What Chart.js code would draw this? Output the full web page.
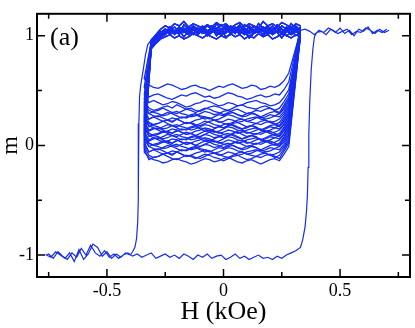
<!DOCTYPE html>
<html><head><meta charset="utf-8">
<script src="https://cdn.jsdelivr.net/npm/chart.js@4/dist/chart.umd.min.js"></script>
<style>html,body{margin:0;padding:0;background:#fff;}canvas{display:block;}</style>
</head><body>
<canvas id="c" width="415" height="328"></canvas>
<script>
// ---- text / ticks ----
const panelLabel = '(a)';
const xTitle = 'H (kOe)';
const yTitle = 'm';
const xTicks = [-0.5, 0, 0.5];
const xMinorTicks = [-0.75, -0.25, 0.25, 0.75];
const yTicks = [-1, 0, 1];
const yMinorTicks = [-0.5, 0.5];

// ---- major loop (H in kOe, m) ----
const mainUpperRightH = [0.71,0.69,0.67,0.65,0.63,0.61,0.59,0.57,0.55,0.53,0.51,0.49,0.47,0.45,0.43,0.41,0.39,0.37,0.35];
const mainUpperRightM = [1.05,1.03,1.06,1.02,1.05,1.07,1.03,1.04,1.01,1.06,1.04,1.02,1.05,1.07,1.03,1.05,1.01,1.04,1.06];
const topH = [0.33,0.31,0.29,0.27,0.25,0.23,0.21,0.19,0.17,0.15,0.13,0.11,0.09,0.07,0.05,0.03,0.01,-0.01,-0.03,-0.05,-0.07,-0.09,-0.11,-0.13,-0.15,-0.17,-0.19,-0.21,-0.23,-0.25,-0.27,-0.29,-0.31];
const mainBandM = [1.05,1.08,1.03,1.06,1.09,1.04,1.07,1.02,1.06,1.08,1.05,1.03,1.07,1.09,1.04,1.06,1.02,1.07,1.05,1.08,1.03,1.06,1.04,1.07,1.01,1.05,1.08,1.04,1.06,1.02,1.03,1.00,0.96];
const mainDescentH = [-0.325,-0.335,-0.345,-0.355,-0.36,-0.363,-0.365,-0.366,-0.368,-0.373,-0.38,-0.39];
const mainDescentM = [0.92,0.82,0.68,0.55,0.45,0.2,-0.2,-0.5,-0.7,-0.85,-0.93,-0.97];
const mainLowerLeftH = [-0.40,-0.42,-0.44,-0.46,-0.48,-0.50,-0.52,-0.54,-0.56,-0.58,-0.60,-0.62,-0.64,-0.66,-0.68,-0.70,-0.72,-0.74,-0.76];
const mainLowerLeftM = [-1.00,-0.98,-1.02,-0.99,-1.03,-0.97,-1.01,-0.93,-0.90,-0.99,-1.04,-0.95,-1.06,-0.98,-1.03,-1.00,-0.97,-1.02,-1.00];
const mainLowerH = [-0.75,-0.73,-0.71,-0.69,-0.67,-0.65,-0.63,-0.61,-0.59,-0.57,-0.55,-0.53,-0.51,-0.49,-0.47,-0.45,-0.43,-0.41,-0.39,-0.37,-0.35,-0.33,-0.31,-0.29,-0.27,-0.25,-0.23,-0.21,-0.19,-0.17,-0.15,-0.13,-0.11,-0.09,-0.07,-0.05,-0.03,-0.01,0.01,0.03,0.05,0.07,0.09,0.11,0.13,0.15,0.17,0.19,0.21,0.23,0.25,0.27,0.29,0.31];
const mainLowerM = [-0.99,-1.03,-0.97,-1.01,-1.04,-0.98,-1.02,-0.94,-1.00,-0.91,-0.98,-1.01,-0.96,-1.02,-0.99,-1.03,-1.00,-0.98,
  -1.01,-0.99,-1.02,-1.00,-0.98,-1.03,-1.01,-0.99,-1.02,-1.00,-1.03,-0.99,-1.01,-1.04,-1.00,-1.02,-0.99,-1.03,-1.01,-1.00,
  -1.04,-1.02,-0.99,-1.03,-1.01,-1.04,-1.02,-1.00,-1.03,-1.02,-1.04,-1.01,-1.03,-1.00,-0.98,-0.96];
const mainRiseH = [0.33,0.34,0.35,0.356,0.36,0.363,0.366,0.37,0.376,0.383,0.39,0.40];
const mainRiseM = [-0.93,-0.86,-0.74,-0.6,-0.45,-0.2,0.1,0.4,0.68,0.87,0.99,1.03];
const mainUpperEndH = [0.42,0.44,0.46,0.48,0.50,0.52,0.54,0.56,0.58,0.60,0.62,0.64,0.66,0.68,0.70];
const mainUpperEndM = [1.04,1.01,1.06,1.03,1.07,1.02,1.05,1.00,1.06,1.04,1.08,1.02,1.05,1.03,1.06];

// ---- minor loops: upper branches (m x 100, at topH) ----
const top1 = [104,107,102,106,109,103,105,108,101,106,104,107,110,103,105,102,107,104,106,109,103,105,101,107,104,106,103,108,105,102,104,100,95];
const top2 = [106,103,108,105,101,107,104,109,106,103,105,102,107,104,108,106,103,100,105,107,104,102,106,109,105,103,107,104,101,106,103,99,94];
const top3 = [102,105,107,103,106,104,101,105,108,104,102,107,105,103,106,109,104,102,107,103,105,108,106,102,104,107,101,105,103,106,102,98,92];
const top4 = [107,104,101,105,103,108,106,102,104,107,105,109,102,106,103,105,108,104,101,106,109,105,103,106,102,105,108,103,106,104,101,97,91];
const top5 = [103,100,105,107,102,104,106,103,101,105,108,104,106,102,104,107,105,101,103,106,102,104,107,105,108,103,105,102,107,103,100,96,90];
const top6 = [109,111,107,110,112,108,111,109,113,107,109,111,108,112,110,107,111,109,112,108,110,107,109,111,108,113,109,111,107,109,106,101,96];
const top7 = [101,104,106,108,103,105,102,107,104,106,109,105,101,104,107,103,105,110,106,104,102,107,103,105,101,104,106,103,105,101,99,95,89];
const top8 = [99,101,98,100,102,99,97,101,99,102,98,100,97,101,99,102,98,100,97,99,101,98,100,102,99,97,100,98,101,99,97,93,88];
const top9 = [105,109,103,100,106,110,104,101,107,111,103,99,105,108,102,106,110,104,100,107,103,109,105,101,106,110,102,104,108,103,100,96,92];
const top10 = [100,106,111,104,98,103,109,105,100,107,102,98,104,110,106,101,99,105,111,103,100,106,102,108,104,99,105,101,107,102,98,94,89];

// ---- minor loops: lower branches (m x 100, at gridH) ----
const gridH = [-0.34,-0.32,-0.30,-0.28,-0.26,-0.24,-0.22,-0.20,-0.18,-0.16,-0.14,-0.12,-0.10,-0.08,-0.06,-0.04,-0.02,0.00,0.02,0.04,0.06,0.08,0.10,0.12,0.14,0.16,0.18,0.20,0.22,0.24,0.26,0.28];
const low1 = [61,55,53,52,54,56,55,53,51,52,54,55,53,52,50,52,54,53,55,56,54,52,53,55,54,51,52,54,53,55,59,66];
const low2 = [53,44,46,47,45,43,42,44,46,45,47,48,46,44,45,43,44,46,48,47,45,44,42,43,45,46,44,45,47,46,51,58];
const low3 = [46,39,41,39,37,38,40,39,37,35,36,38,39,41,40,38,36,37,39,38,36,37,39,40,41,39,38,36,37,39,44,51];
const low4 = [42,34,32,33,35,36,34,37,35,33,34,32,31,33,35,36,35,33,32,34,36,37,35,34,33,35,36,34,32,34,40,47];
const low5 = [39,29,31,32,34,32,30,29,31,33,32,30,32,34,33,31,30,28,30,32,33,31,29,30,32,31,33,34,32,30,37,44];
const low6 = [37,32,30,29,27,28,30,31,29,28,26,27,29,31,30,28,29,31,32,30,28,27,29,30,28,26,28,30,31,29,35,42];
const low7 = [35,29,27,26,28,30,29,27,25,26,28,29,27,26,24,26,28,27,29,30,28,26,27,29,28,25,26,28,27,29,33,40];
const low8 = [33,24,26,27,25,23,22,24,26,25,27,28,26,24,25,23,24,26,28,27,25,24,22,23,25,26,24,25,27,26,31,38];
const low9 = [31,24,26,24,22,23,25,24,22,20,21,23,24,26,25,23,21,22,24,23,21,22,24,25,26,24,23,21,22,24,29,36];
const low10 = [29,21,19,20,22,23,21,24,22,20,21,19,18,20,22,23,22,20,19,21,23,24,22,21,20,22,23,21,19,21,27,34];
const low11 = [27,17,19,20,22,20,18,17,19,21,20,18,20,22,21,19,18,16,18,20,21,19,17,18,20,19,21,22,20,18,25,32];
const low12 = [25,20,18,17,15,16,18,19,17,16,14,15,17,19,18,16,17,19,20,18,16,15,17,18,16,14,16,18,19,17,23,30];
const low13 = [24,18,16,15,17,19,18,16,14,15,17,18,16,15,13,15,17,16,18,19,17,15,16,18,17,14,15,17,16,18,22,29];
const low14 = [22,13,15,16,14,12,11,13,15,14,16,17,15,13,14,12,13,15,17,16,14,13,11,12,14,15,13,14,16,15,20,27];
const low15 = [21,14,16,14,12,13,15,14,12,10,11,13,14,16,15,13,11,12,14,13,11,12,14,15,16,14,13,11,12,14,19,26];
const low16 = [19,11,9,10,12,13,11,14,12,10,11,9,8,10,12,13,12,10,9,11,13,14,12,11,10,12,13,11,9,11,17,24];
const low17 = [18,8,10,11,13,11,9,8,10,12,11,9,11,13,12,10,9,7,9,11,12,10,8,9,11,10,12,13,11,9,16,23];
const low18 = [16,11,9,8,6,7,9,10,8,7,5,6,8,10,9,7,8,10,11,9,7,6,8,9,7,5,7,9,10,8,14,21];
const low19 = [15,9,7,6,8,10,9,7,5,6,8,9,7,6,4,6,8,7,9,10,8,6,7,9,8,5,6,8,7,9,13,20];
const low20 = [13,4,6,7,5,3,2,4,6,5,7,8,6,4,5,3,4,6,8,7,5,4,2,3,5,6,4,5,7,6,11,18];
const low21 = [12,5,7,5,3,4,6,5,3,1,2,4,5,7,6,4,2,3,5,4,2,3,5,6,7,5,4,2,3,5,10,17];
const low22 = [10,2,0,1,3,4,2,5,3,1,2,0,-1,1,3,4,3,1,0,2,4,5,3,2,1,3,4,2,0,2,8,15];
const low23 = [9,-1,1,2,4,2,0,-1,1,3,2,0,2,4,3,1,0,-2,0,2,3,1,-1,0,2,1,3,4,2,0,7,14];
const low24 = [7,2,0,-1,-3,-2,0,1,-1,-2,-4,-3,-1,1,0,-2,-1,1,2,0,-2,-3,-1,0,-2,-4,-2,0,1,-1,5,12];
const low25 = [5,-1,-3,-4,-2,0,-1,-3,-5,-4,-2,-1,-3,-4,-6,-4,-2,-3,-1,0,-2,-4,-3,-1,-2,-5,-4,-2,-3,-1,3,10];
const low26 = [3,-6,-4,-3,-5,-7,-8,-6,-4,-5,-3,-2,-4,-6,-5,-7,-6,-4,-2,-3,-5,-6,-8,-7,-5,-4,-6,-5,-3,-4,1,8];
const low27 = [1,-6,-4,-6,-8,-7,-5,-6,-8,-10,-9,-7,-6,-4,-5,-7,-9,-8,-6,-7,-9,-8,-6,-5,-4,-6,-7,-9,-8,-6,-1,6];
const low28 = [-1,-9,-11,-10,-8,-7,-9,-6,-8,-10,-9,-11,-12,-10,-8,-7,-8,-10,-11,-9,-7,-6,-8,-9,-10,-8,-7,-9,-11,-9,-3,4];
const low29 = [-3,-13,-11,-10,-8,-10,-12,-13,-11,-9,-10,-12,-10,-8,-9,-11,-12,-14,-12,-10,-9,-11,-13,-12,-10,-11,-9,-8,-10,-12,-5,2];
const low30 = [-6,-11,-13,-14,-16,-15,-13,-12,-14,-15,-17,-16,-14,-12,-13,-15,-14,-12,-11,-13,-15,-16,-14,-13,-15,-17,-15,-13,-12,-14,-8,-1];

const tops = [top1,top2,top3,top4,top5,top6,top7,top8,top9,top10];
const lows = [low1,low2,low3,low4,low5,low6,low7,low8,low9,low10,low11,low12,low13,low14,low15,
              low16,low17,low18,low19,low20,low21,low22,low23,low24,low25,low26,low27,low28,low29,low30];

// ---- build datasets ----
const LINE = 'rgb(22,45,238)';
const FONT = '"Liberation Serif", "Times New Roman", serif';
const pts = (H, M, s) => M.map((m, i) => ({x: H[i], y: m / (s || 1)}));

const datasets = [];
lows.forEach((low, i) => {
  const top = tops[i % tops.length];
  const data = pts(topH, top, 100).concat(pts(gridH, low, 100));
  data.push({x: topH[0], y: top[0] / 100});
  datasets.push({data, showLine: true, borderColor: LINE, borderWidth: 1.3, pointRadius: 0, tension: 0});
});
const mainData = [].concat(
  pts(mainUpperRightH, mainUpperRightM),
  pts(topH, mainBandM),
  pts(mainDescentH, mainDescentM),
  pts(mainLowerLeftH, mainLowerLeftM),
  pts(mainLowerH, mainLowerM),
  pts(mainRiseH, mainRiseM),
  pts(mainUpperEndH, mainUpperEndM)
);
datasets.push({data: mainData, showLine: true, borderColor: LINE, borderWidth: 1.2, pointRadius: 0, tension: 0});

const frameTicks = {
  id: 'frameTicks',
  afterDatasetsDraw(chart) {
    const {ctx, chartArea: a, scales: {x, y}} = chart;
    ctx.save();
    ctx.strokeStyle = '#000';
    ctx.lineWidth = 1.5;
    ctx.beginPath();
    const seg = (x0, y0, x1, y1) => { ctx.moveTo(x0, y0); ctx.lineTo(x1, y1); };
    xTicks.forEach(v => { const p = x.getPixelForValue(v); seg(p, a.bottom, p, a.bottom - 8); seg(p, a.top, p, a.top + 8); });
    xMinorTicks.forEach(v => { const p = x.getPixelForValue(v); seg(p, a.bottom, p, a.bottom - 5); seg(p, a.top, p, a.top + 5); });
    yTicks.forEach(v => { const p = y.getPixelForValue(v); seg(a.left, p, a.left + 8, p); seg(a.right, p, a.right - 8, p); });
    yMinorTicks.forEach(v => { const p = y.getPixelForValue(v); seg(a.left, p, a.left + 5, p); seg(a.right, p, a.right - 5, p); });
    ctx.stroke();
    ctx.lineWidth = 2;
    ctx.strokeRect(a.left, a.top, a.right - a.left, a.bottom - a.top);
    ctx.fillStyle = '#000';
    ctx.font = '26px ' + FONT;
    ctx.textBaseline = 'alphabetic';
    ctx.textAlign = 'left';
    ctx.fillText(panelLabel, a.left + 13, a.top + 31);
    ctx.restore();
  }
};

new Chart(document.getElementById('c'), {
  type: 'scatter',
  data: {datasets},
  options: {
    responsive: false,
    animation: false,
    devicePixelRatio: 1,
    layout: {padding: {top: 6, right: 5, left: 0, bottom: 0}},
    plugins: {legend: {display: false}, tooltip: {enabled: false}},
    scales: {
      x: {
        type: 'linear', min: -0.8, max: 0.8,
        grid: {display: false, drawTicks: false}, border: {display: false},
        afterBuildTicks: s => { s.ticks = xTicks.map(v => ({value: v})); },
        afterFit: s => { s.height = 51; },
        ticks: {color: '#000', padding: 3, font: {family: FONT, size: 18}, callback: v => String(v)},
        title: {display: true, text: xTitle, color: '#000', font: {family: FONT, size: 26}, padding: {top: 0, bottom: 0}}
      },
      y: {
        type: 'linear', min: -1.2, max: 1.2,
        grid: {display: false, drawTicks: false}, border: {display: false},
        afterBuildTicks: s => { s.ticks = yTicks.map(v => ({value: v})); },
        afterFit: s => { s.width = 37; },
        ticks: {color: '#000', padding: 3, font: {family: FONT, size: 18}, callback: v => String(v)},
        title: {display: true, text: yTitle, color: '#000', font: {family: FONT, size: 24, lineHeight: 0.9}, padding: {top: 0, bottom: 0}}
      }
    }
  },
  plugins: [frameTicks]
});
</script>
</body></html>
